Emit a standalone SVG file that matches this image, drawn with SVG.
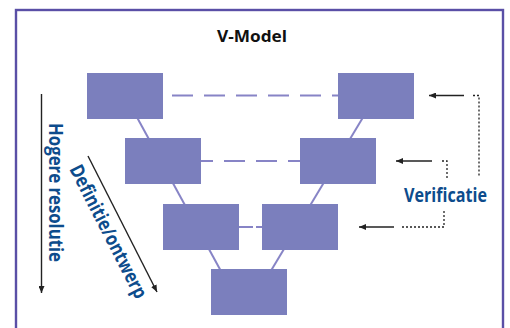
<svg xmlns="http://www.w3.org/2000/svg" width="510" height="328" viewBox="0 0 510 328">
<style>
.box{fill:#7b7fbd}
.vline{stroke:#8784c6;stroke-width:2;fill:none}
.dash{stroke:#8784c6;stroke-width:2;stroke-dasharray:21 11;fill:none}
.arr{stroke:#222;stroke-width:1.4;fill:none}
.dot{stroke:#222;stroke-width:1.3;stroke-dasharray:2 2;fill:none}
.lbl{font-family:"Open Sans","Liberation Sans",sans-serif;font-weight:bold;fill:#0d4c8c}
.title{font-family:"Open Sans","Liberation Sans",sans-serif;font-weight:bold;fill:#111}
</style>
<defs>
<marker id="ah" markerUnits="userSpaceOnUse" markerWidth="7" markerHeight="6" refX="7" refY="3" orient="auto">
<path d="M0,0 L7,3 L0,6 z" fill="#222"/>
</marker>
</defs>
<rect x="0" y="0" width="510" height="328" fill="#fff"/>
<rect id="frame" x="16" y="10" width="487" height="340" fill="#fff" stroke="#5a4fa6" stroke-width="2.4"/>
<text class="title" x="252" y="42" font-size="16" text-anchor="middle" textLength="70" lengthAdjust="spacingAndGlyphs">V-Model</text>
<g id="connectors">
<line class="vline" x1="133" y1="110" x2="222" y2="273"/>
<line class="vline" x1="367.4" y1="110" x2="269.6" y2="273"/>
<line class="dash" x1="172" y1="95.5" x2="338" y2="95.5"/>
<line class="dash" x1="192" y1="161" x2="300" y2="161"/>
<line class="dash" x1="239" y1="227" x2="262" y2="227" style="stroke-dasharray:14 3"/>
<line class="arr" x1="41.5" y1="94" x2="41.5" y2="293" marker-end="url(#ah)"/>
<line class="arr" x1="88" y1="156" x2="157" y2="292" marker-end="url(#ah)"/>
<line class="arr" x1="464" y1="95.5" x2="429" y2="95.5" marker-end="url(#ah)"/>
<path class="dot" d="M473,95.5 H479 V177"/>
<line class="arr" x1="432" y1="161" x2="396" y2="161" marker-end="url(#ah)"/>
<path class="dot" d="M442,161 H447 V178"/>
<line class="arr" x1="394" y1="227" x2="359" y2="227" marker-end="url(#ah)"/>
<path class="dot" d="M402,227 H444 V210"/>
</g>
<g id="def1"><rect class="box" x="87" y="73" width="76" height="46"/></g>
<g id="def2"><rect class="box" x="125" y="138" width="76" height="46"/></g>
<g id="def3"><rect class="box" x="163" y="204" width="76" height="46"/></g>
<g id="impl"><rect class="box" x="211" y="269" width="76" height="46"/></g>
<g id="test3"><rect class="box" x="262" y="204" width="76" height="46"/></g>
<g id="test2"><rect class="box" x="300" y="138" width="76" height="46"/></g>
<g id="test1"><rect class="box" x="338" y="73" width="76" height="46"/></g>
<g id="labels">
<text class="lbl" x="404" y="201.5" font-size="20" textLength="83" lengthAdjust="spacingAndGlyphs">Verificatie</text>
<text class="lbl" transform="translate(49,123) rotate(90)" font-size="19.5" textLength="139" lengthAdjust="spacingAndGlyphs">Hogere resolutie</text>
<text class="lbl" transform="translate(69,169) rotate(62.9)" font-size="19.5" textLength="147" lengthAdjust="spacingAndGlyphs">Definitie/ontwerp</text>
</g>
</svg>
